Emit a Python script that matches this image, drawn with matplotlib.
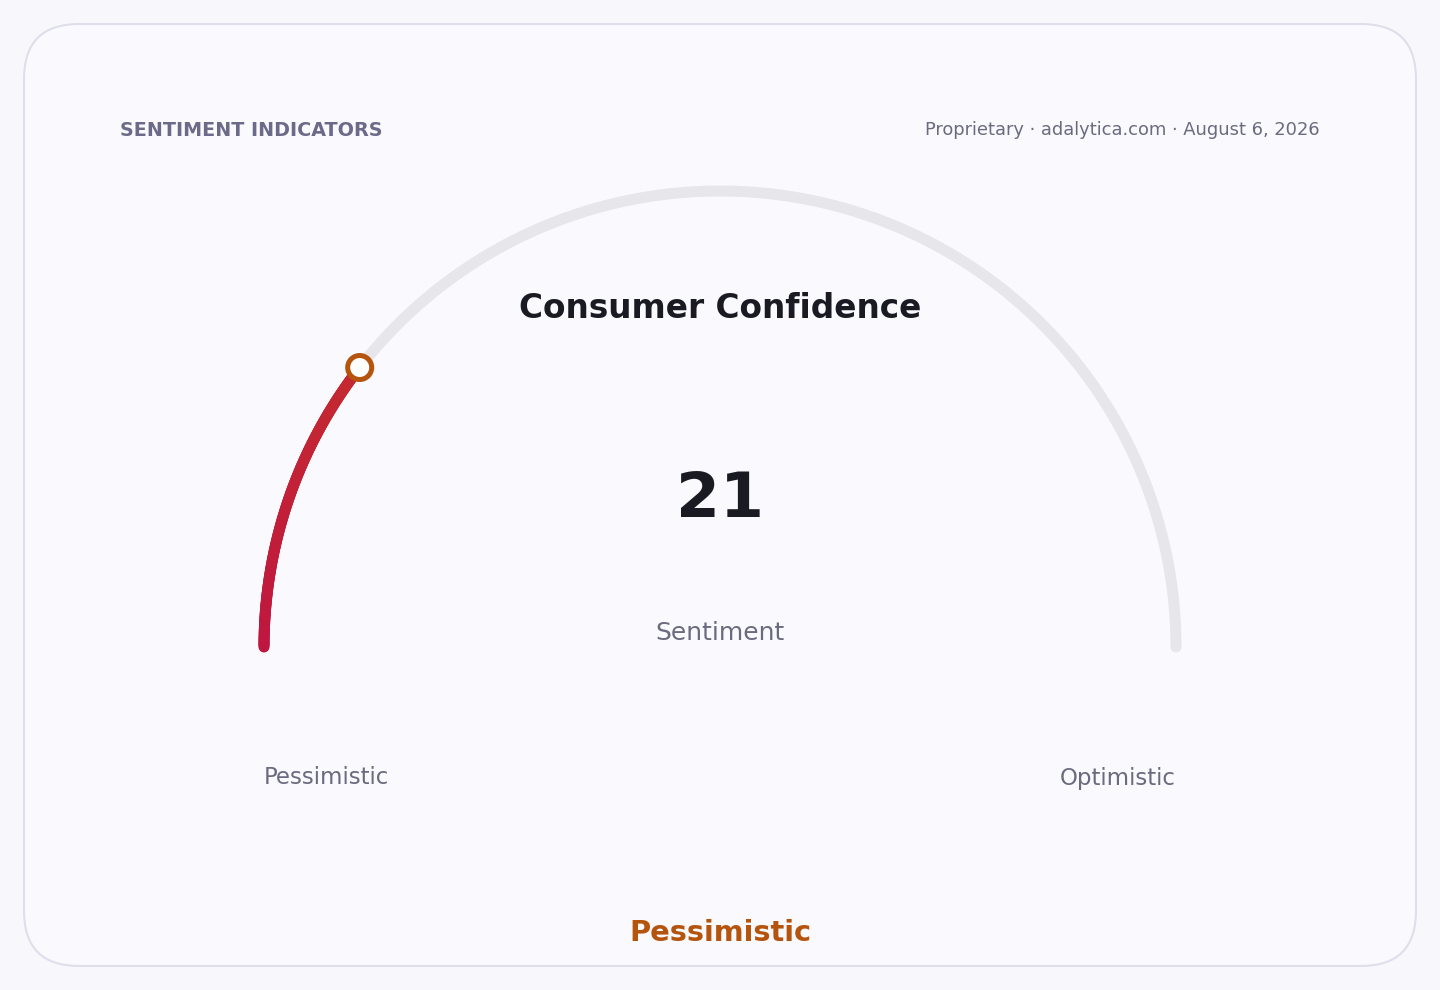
import matplotlib.pyplot as plt
from matplotlib.patches import FancyBboxPatch, Circle
from matplotlib.collections import LineCollection
from matplotlib.colors import LinearSegmentedColormap
import numpy as np

# data
value = 21
vmin, vmax = 0, 100
title = "Consumer Confidence"
subtitle = "Sentiment"
low_label = "Pessimistic"
high_label = "Optimistic"
status = "Pessimistic"
header_left = "SENTIMENT INDICATORS"
header_right = "Proprietary \u00b7 adalytica.com \u00b7 August 6, 2026"

W, H = 1440, 990
fig = plt.figure(figsize=(W / 100, H / 100), dpi=100)
fig.patch.set_facecolor("#f8f8fc")
ax = fig.add_axes([0, 0, 1, 1])
ax.set_xlim(0, W)
ax.set_ylim(H, 0)
ax.axis("off")

# card
card = FancyBboxPatch((24, 24), 1392, 942, boxstyle="round,pad=0,rounding_size=55",
                      facecolor="#f9f9fe", edgecolor="#dfdfec", linewidth=1.5)
ax.add_patch(card)

cx, cy, r = 720, 647, 456
px = 0.72  # points per pixel

# background track
t = np.linspace(np.pi, 0, 400)
ax.plot(cx + r * np.cos(t), cy - r * np.sin(t), color="#e6e6eb",
        lw=11 * px, solid_capstyle="round", zorder=2)

# value arc with gradient
frac = (value - vmin) / (vmax - vmin)
a_end = np.pi - frac * np.pi
ta = np.linspace(np.pi, a_end, 200)
xs = cx + r * np.cos(ta)
ys = cy - r * np.sin(ta)
pts = np.column_stack([xs, ys]).reshape(-1, 1, 2)
segs = np.concatenate([pts[:-1], pts[1:]], axis=1)
cmap = LinearSegmentedColormap.from_list("g", ["#bf1640", "#c42a30"])
lc = LineCollection(segs, colors=cmap(np.linspace(0, 1, len(segs))),
                    linewidths=11 * px, capstyle="round", zorder=3)
ax.add_collection(lc)

# marker
ax.add_patch(Circle((xs[-1], ys[-1]), 12, facecolor="white",
                    edgecolor="#b5540c", linewidth=5 * px, zorder=4))

# texts
ax.text(120, 130, header_left, fontsize=13.8, fontweight="bold", color="#6b6a88",
        ha="left", va="center")
ax.text(1320, 130, header_right, fontsize=12.9, color="#6b6b80",
        ha="right", va="center")
ax.text(720, 309, title, fontsize=23.6, fontweight="bold", color="#1a1a22",
        ha="center", va="center")
ax.text(720, 500, str(value), fontsize=45.5, fontweight="bold", color="#1a1a22",
        ha="center", va="center")
ax.text(720, 633, subtitle, fontsize=18, color="#6b6b80", ha="center", va="center")
ax.text(264, 778, low_label, fontsize=16.5, color="#6b6b80", ha="left", va="center")
ax.text(1176, 778, high_label, fontsize=16.5, color="#6b6b80", ha="right", va="center")
ax.text(720, 933, status, fontsize=20.8, fontweight="bold", color="#b5540c",
        ha="center", va="center")

fig.savefig("out.png", dpi=100, facecolor=fig.get_facecolor())
